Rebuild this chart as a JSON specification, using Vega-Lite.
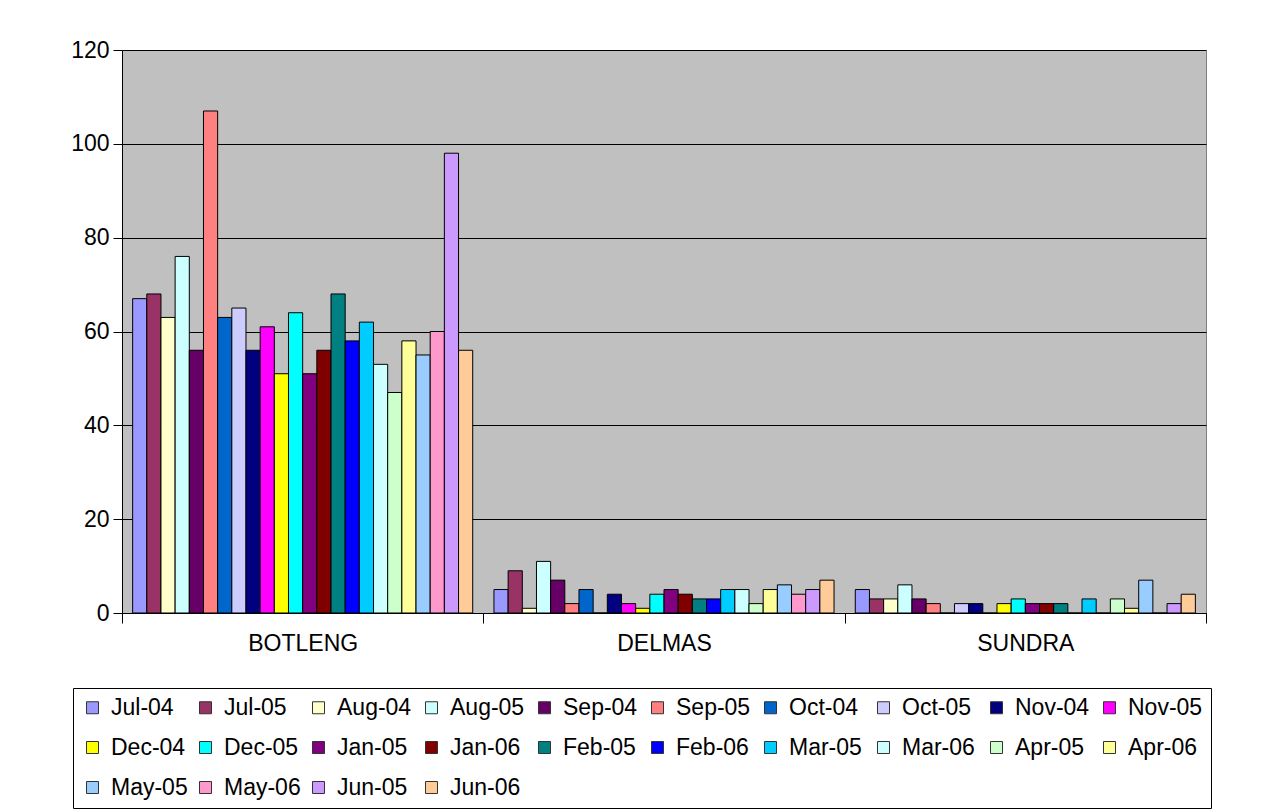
{
  "$schema": "https://vega.github.io/schema/vega-lite/v6.json",
  "autosize": {"type": "none"},
  "width": 1084,
  "height": 563,
  "padding": {"left": 122, "top": 50, "right": 57, "bottom": 199},
  "background": "white",
  "config": {
    "font": "Liberation Sans",
    "view": {"fill": "#C0C0C0", "stroke": "#808080", "strokeWidth": 1}
  },
  "data": {
    "values": [
      {"site": "BOTLENG", "month": "Jul-04", "value": 67},
      {"site": "BOTLENG", "month": "Jul-05", "value": 68},
      {"site": "BOTLENG", "month": "Aug-04", "value": 63},
      {"site": "BOTLENG", "month": "Aug-05", "value": 76},
      {"site": "BOTLENG", "month": "Sep-04", "value": 56},
      {"site": "BOTLENG", "month": "Sep-05", "value": 107},
      {"site": "BOTLENG", "month": "Oct-04", "value": 63},
      {"site": "BOTLENG", "month": "Oct-05", "value": 65},
      {"site": "BOTLENG", "month": "Nov-04", "value": 56},
      {"site": "BOTLENG", "month": "Nov-05", "value": 61},
      {"site": "BOTLENG", "month": "Dec-04", "value": 51},
      {"site": "BOTLENG", "month": "Dec-05", "value": 64},
      {"site": "BOTLENG", "month": "Jan-05", "value": 51},
      {"site": "BOTLENG", "month": "Jan-06", "value": 56},
      {"site": "BOTLENG", "month": "Feb-05", "value": 68},
      {"site": "BOTLENG", "month": "Feb-06", "value": 58},
      {"site": "BOTLENG", "month": "Mar-05", "value": 62},
      {"site": "BOTLENG", "month": "Mar-06", "value": 53},
      {"site": "BOTLENG", "month": "Apr-05", "value": 47},
      {"site": "BOTLENG", "month": "Apr-06", "value": 58},
      {"site": "BOTLENG", "month": "May-05", "value": 55},
      {"site": "BOTLENG", "month": "May-06", "value": 60},
      {"site": "BOTLENG", "month": "Jun-05", "value": 98},
      {"site": "BOTLENG", "month": "Jun-06", "value": 56},
      {"site": "DELMAS", "month": "Jul-04", "value": 5},
      {"site": "DELMAS", "month": "Jul-05", "value": 9},
      {"site": "DELMAS", "month": "Aug-04", "value": 1},
      {"site": "DELMAS", "month": "Aug-05", "value": 11},
      {"site": "DELMAS", "month": "Sep-04", "value": 7},
      {"site": "DELMAS", "month": "Sep-05", "value": 2},
      {"site": "DELMAS", "month": "Oct-04", "value": 5},
      {"site": "DELMAS", "month": "Oct-05", "value": 0},
      {"site": "DELMAS", "month": "Nov-04", "value": 4},
      {"site": "DELMAS", "month": "Nov-05", "value": 2},
      {"site": "DELMAS", "month": "Dec-04", "value": 1},
      {"site": "DELMAS", "month": "Dec-05", "value": 4},
      {"site": "DELMAS", "month": "Jan-05", "value": 5},
      {"site": "DELMAS", "month": "Jan-06", "value": 4},
      {"site": "DELMAS", "month": "Feb-05", "value": 3},
      {"site": "DELMAS", "month": "Feb-06", "value": 3},
      {"site": "DELMAS", "month": "Mar-05", "value": 5},
      {"site": "DELMAS", "month": "Mar-06", "value": 5},
      {"site": "DELMAS", "month": "Apr-05", "value": 2},
      {"site": "DELMAS", "month": "Apr-06", "value": 5},
      {"site": "DELMAS", "month": "May-05", "value": 6},
      {"site": "DELMAS", "month": "May-06", "value": 4},
      {"site": "DELMAS", "month": "Jun-05", "value": 5},
      {"site": "DELMAS", "month": "Jun-06", "value": 7},
      {"site": "SUNDRA", "month": "Jul-04", "value": 5},
      {"site": "SUNDRA", "month": "Jul-05", "value": 3},
      {"site": "SUNDRA", "month": "Aug-04", "value": 3},
      {"site": "SUNDRA", "month": "Aug-05", "value": 6},
      {"site": "SUNDRA", "month": "Sep-04", "value": 3},
      {"site": "SUNDRA", "month": "Sep-05", "value": 2},
      {"site": "SUNDRA", "month": "Oct-04", "value": 0},
      {"site": "SUNDRA", "month": "Oct-05", "value": 2},
      {"site": "SUNDRA", "month": "Nov-04", "value": 2},
      {"site": "SUNDRA", "month": "Nov-05", "value": 0},
      {"site": "SUNDRA", "month": "Dec-04", "value": 2},
      {"site": "SUNDRA", "month": "Dec-05", "value": 3},
      {"site": "SUNDRA", "month": "Jan-05", "value": 2},
      {"site": "SUNDRA", "month": "Jan-06", "value": 2},
      {"site": "SUNDRA", "month": "Feb-05", "value": 2},
      {"site": "SUNDRA", "month": "Feb-06", "value": 0},
      {"site": "SUNDRA", "month": "Mar-05", "value": 3},
      {"site": "SUNDRA", "month": "Mar-06", "value": 0},
      {"site": "SUNDRA", "month": "Apr-05", "value": 3},
      {"site": "SUNDRA", "month": "Apr-06", "value": 1},
      {"site": "SUNDRA", "month": "May-05", "value": 7},
      {"site": "SUNDRA", "month": "May-06", "value": 0},
      {"site": "SUNDRA", "month": "Jun-05", "value": 2},
      {"site": "SUNDRA", "month": "Jun-06", "value": 4}
    ]
  },
  "mark": {"type": "bar", "stroke": "black", "strokeWidth": 1},
  "encoding": {
    "x": {
      "field": "site",
      "type": "nominal",
      "sort": ["BOTLENG", "DELMAS", "SUNDRA"],
      "scale": {"paddingInner": 0, "paddingOuter": 0},
      "axis": {
        "title": null,
        "labelAngle": 0,
        "labelFontSize": 23,
        "labelColor": "black",
        "labelPadding": 9,
        "domainColor": "black",
        "tickColor": "black",
        "tickSize": 10,
        "tickBand": "extent"
      }
    },
    "xOffset": {
      "field": "month",
      "type": "nominal",
      "sort": ["Jul-04","Jul-05","Aug-04","Aug-05","Sep-04","Sep-05","Oct-04","Oct-05","Nov-04","Nov-05","Dec-04","Dec-05","Jan-05","Jan-06","Feb-05","Feb-06","Mar-05","Mar-06","Apr-05","Apr-06","May-05","May-06","Jun-05","Jun-06"],
      "scale": {"paddingInner": 0, "paddingOuter": 0.75}
    },
    "y": {
      "field": "value",
      "type": "quantitative",
      "scale": {"domain": [0, 120], "nice": false},
      "axis": {
        "title": null,
        "values": [0, 20, 40, 60, 80, 100, 120],
        "labelFontSize": 23,
        "labelColor": "black",
        "labelPadding": 4,
        "tickSize": 9,
        "tickColor": "black",
        "domainColor": "black",
        "grid": true,
        "gridColor": "black",
        "gridWidth": 1
      }
    },
    "color": {
      "field": "month",
      "type": "nominal",
      "sort": ["Jul-04","Jul-05","Aug-04","Aug-05","Sep-04","Sep-05","Oct-04","Oct-05","Nov-04","Nov-05","Dec-04","Dec-05","Jan-05","Jan-06","Feb-05","Feb-06","Mar-05","Mar-06","Apr-05","Apr-06","May-05","May-06","Jun-05","Jun-06"],
      "scale": {
        "domain": ["Jul-04","Jul-05","Aug-04","Aug-05","Sep-04","Sep-05","Oct-04","Oct-05","Nov-04","Nov-05","Dec-04","Dec-05","Jan-05","Jan-06","Feb-05","Feb-06","Mar-05","Mar-06","Apr-05","Apr-06","May-05","May-06","Jun-05","Jun-06"],
        "range": ["#9999FF","#993366","#FFFFCC","#CCFFFF","#660066","#FF8080","#0066CC","#CCCCFF","#000080","#FF00FF","#FFFF00","#00FFFF","#800080","#800000","#008080","#0000FF","#00CCFF","#CCFFFF","#CCFFCC","#FFFF99","#99CCFF","#FF99CC","#CC99FF","#FFCC99"]
      },
      "legend": {
        "title": null,
        "orient": "none",
        "legendX": -49,
        "legendY": 638,
        "direction": "horizontal",
        "columns": 10,
        "gridAlign": "all",
        "columnPadding": 6,
        "rowPadding": 16,
        "padding": 8,
        "strokeColor": "black",
        "fillColor": "white",
        "symbolType": "square",
        "symbolSize": 144,
        "symbolStrokeColor": "#333333",
        "symbolStrokeWidth": 1,
        "symbolOpacity": 1,
        "labelFontSize": 23,
        "labelColor": "black",
        "labelOffset": 7,
        "labelLimit": 200
      }
    }
  }
}
